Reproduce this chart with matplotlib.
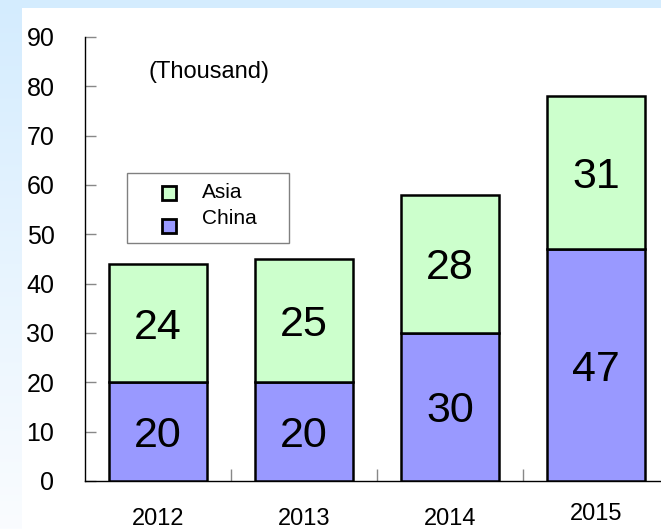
import numpy as np
import matplotlib
matplotlib.use("Agg")
import matplotlib.pyplot as plt
from matplotlib.patches import Rectangle
from matplotlib.lines import Line2D

plt.rcParams['font.family'] = ['Liberation Sans', 'DejaVu Sans']

years = ['2012', '2013', '2014', '2015']
china = [20, 20, 30, 47]
asia = [24, 25, 28, 31]
yticks = [0, 10, 20, 30, 40, 50, 60, 70, 80, 90]

W, H = 661, 529
fig = plt.figure(figsize=(W / 100, H / 100), dpi=100)
fig.patch.set_facecolor('white')

# background: light blue top band and left gradient strip
bg = fig.add_axes([0, 0, 1, 1], zorder=-10)
img = np.ones((H, W, 3))
top = np.array([212, 236, 254]) / 255.0
bot = np.array([250, 252, 255]) / 255.0
t = np.linspace(0, 1, H)[:, None]
grad = top[None, :] * (1 - t) + bot[None, :] * t
img[:, :22, :] = grad[:, None, :]
img[:8, :, :] = top
bg.imshow(img, aspect='auto', extent=[0, 1, 0, 1], interpolation='bilinear')
bg.set_axis_off()

def fx(px):
    return px / W

def fy(py):
    return 1 - py / H

ax = fig.add_axes([fx(85), fy(481), 584 / W, 444 / H])
ax.set_facecolor('none')

x = np.arange(len(years))
green = '#CCFFCC'
blue = '#9999FF'
b1 = ax.bar(x, china, width=0.67, color=blue, edgecolor='black', linewidth=1.8, zorder=3)
b2 = ax.bar(x, asia, width=0.67, bottom=china, color=green, edgecolor='black', linewidth=1.8, zorder=3)
anns = ax.bar_label(b1, labels=[str(v) for v in china], label_type='center', fontsize=31, zorder=4)
anns += ax.bar_label(b2, labels=[str(v) for v in asia], label_type='center', fontsize=31, zorder=4)
for a in anns:
    a.set_verticalalignment('center_baseline')

ax.set_xlim(-0.5, 3.5)
ax.set_ylim(0, 90)
ax.set_yticks(yticks)
ax.set_yticklabels([str(v) for v in yticks], fontsize=18)
ax.tick_params(axis='y', direction='in', length=8, width=1, color='#888888', pad=22)

ax.set_xticks([0.5, 1.5, 2.5])
ax.set_xticklabels([])
ax.tick_params(axis='x', direction='in', length=9, width=1, color='#888888')

label_y = [-0.086, -0.086, -0.086, -0.075]
for xi, lab, ly in zip(x, years, label_y):
    ax.text(xi, ly, lab, transform=ax.get_xaxis_transform(), ha='center', va='center',
            fontsize=17, clip_on=False)

for s in ['top', 'right']:
    ax.spines[s].set_visible(False)
for s in ['left', 'bottom']:
    ax.spines[s].set_color('black')
    ax.spines[s].set_linewidth(1)

fig.text(fx(148), fy(72), '(Thousand)', fontsize=17, ha='left', va='center')

# legend box
fig.patches.append(Rectangle((fx(127), fy(243)), (289 - 127) / W, (243 - 173) / H,
                             transform=fig.transFigure, facecolor='white',
                             edgecolor='#808080', linewidth=1, zorder=5))
for py, c, lab, ty in [(193, green, 'Asia', 192), (226, blue, 'China', 219)]:
    fig.lines.append(Line2D([fx(169)], [fy(py)], marker='s', markersize=10,
                            markerfacecolor=c, markeredgecolor='black', markeredgewidth=2,
                            linestyle='none', transform=fig.transFigure, zorder=6))
    fig.text(fx(202), fy(ty), lab, fontsize=15, ha='left', va='center', zorder=6)

fig.savefig('out.png', dpi=100)
